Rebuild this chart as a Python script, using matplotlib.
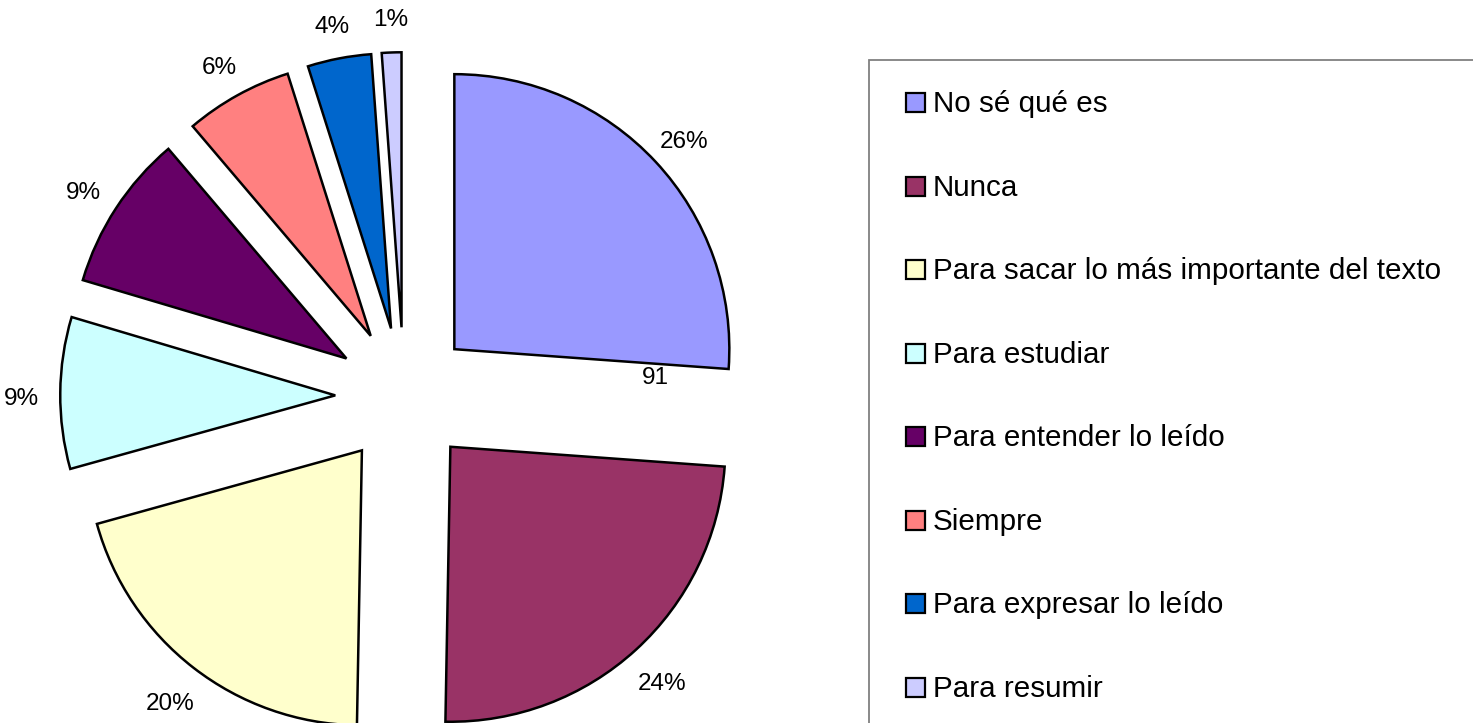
import matplotlib
matplotlib.use('Agg')
import matplotlib.pyplot as plt
from matplotlib.patches import Rectangle
import numpy as np

# datos de la encuesta (respuestas por categoría)
categorias = [
    "No sé qué es",
    "Nunca",
    "Para sacar lo más importante del texto",
    "Para estudiar",
    "Para entender lo leído",
    "Siempre",
    "Para expresar lo leído",
    "Para resumir",
]
respuestas = [91, 84, 71, 31, 32, 22, 13, 4]
colores = ["#9999FF", "#993366", "#FFFFCC", "#CCFFFF",
           "#660066", "#FF8080", "#0066CC", "#CCCCFF"]

FUENTE = ['Liberation Sans', 'DejaVu Sans']
W, H = 1473, 723
R_PX = 275.0           # radio del pastel en píxeles
CX, CY = 404.0, 396.0  # centro del pastel en píxeles (desde arriba)

fig = plt.figure(figsize=(W / 100, H / 100), dpi=100)
fig.patch.set_facecolor('white')
ax = fig.add_axes([0, 0, 1, 1])

wedges, textos, pcts = ax.pie(
    respuestas,
    colors=colores,
    explode=[0.25] * len(respuestas),
    startangle=90,
    counterclock=False,
    autopct='%.0f%%',
    pctdistance=1.14,
    labels=None,
    wedgeprops=dict(edgecolor='black', linewidth=1.8, joinstyle='miter'),
    textprops=dict(fontsize=17.5, family=FUENTE, color='black'),
)

# las etiquetas de Excel quedan un poco más abajo
for t in pcts:
    x, y = t.get_position()
    t.set_position((x, y - 6 / R_PX))

# una unidad de datos = un radio (275 px) en ambos ejes
ax.set_xlim(-CX / R_PX, (W - CX) / R_PX)
ax.set_ylim(-(H - CY) / R_PX, CY / R_PX)
ax.set_aspect('auto')
ax.axis('off')

# etiqueta de valor suelta del primer sector
ax.text(0.913, 0.065, str(respuestas[0]), fontsize=17.5, family=FUENTE,
        ha='center', va='center')

# leyenda dibujada a mano (marco recortado por el borde como en el original)
def fx(px):
    return px / W

def fy(py):
    return 1 - py / H

fig.patches.append(Rectangle((fx(869), fy(740)), fx(700), 680 / H,
                             transform=fig.transFigure, fill=False,
                             edgecolor='#808080', linewidth=1.3))
fila0, paso = 102.5, 83.55
for i, (w, nombre) in enumerate(zip(wedges, categorias)):
    yc = fila0 + i * paso
    fig.patches.append(Rectangle((fx(906), fy(yc + 9.5)), fx(19), 19 / H,
                                 transform=fig.transFigure,
                                 facecolor=w.get_facecolor(),
                                 edgecolor='black', linewidth=1.6))
    fig.text(fx(933), fy(yc + 9.5), nombre, fontsize=21.3, family=FUENTE,
             ha='left', va='baseline')

fig.savefig('out.png', dpi=100, facecolor='white')
